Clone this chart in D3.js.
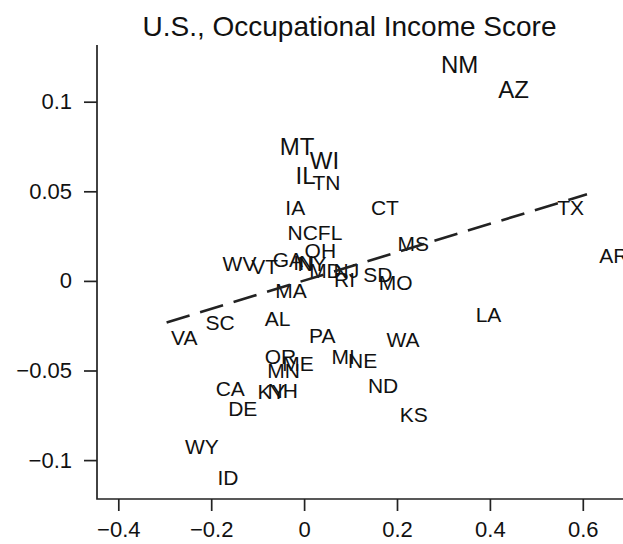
<!DOCTYPE html>
<html>
<head>
<meta charset="utf-8">
<script src="https://cdn.jsdelivr.net/npm/d3@7"></script>
<style>
  html, body { margin: 0; padding: 0; background: #fff; overflow: hidden; }
  svg { display: block; font-family: "Liberation Sans", Arial, Helvetica, sans-serif; }
</style>
</head>
<body>
<svg id="chart"></svg>
<script>
// state labels and their (x, y) values
const states = ["NM","AZ","MT","WI","IL","TN","IA","CT","NC","FL",
                "MS","TX","AR","OH","WV","VT","GA","IN","NY","MD",
                "NJ","RI","SD","MO","MA","LA","VA","SC","AL","PA",
                "WA","OR","MN","ME","MI","NE","KY","NH","ND","KS",
                "CA","DE","WY","ID"];
const xValues = [0.335, 0.451, -0.015, 0.044, 0.003, 0.048, -0.019, 0.174, -0.003, 0.056,
                 0.235, 0.574, 0.667, 0.035, -0.139, -0.085, -0.035, -0.001, 0.017, 0.046,
                 0.091, 0.087, 0.159, 0.197, -0.028, 0.397, -0.258, -0.181, -0.057, 0.039,
                 0.213, -0.051, -0.044, -0.013, 0.084, 0.126, -0.070, -0.046, 0.170, 0.236,
                 -0.159, -0.132, -0.220, -0.164];
const yValues = [0.121, 0.107, 0.075, 0.067, 0.059, 0.055, 0.041, 0.041, 0.027, 0.027,
                 0.021, 0.041, 0.014, 0.017, 0.010, 0.008, 0.012, 0.0105, 0.0098, 0.0056,
                 0.006, 0.0009, 0.0037, -0.0009, -0.0056, -0.0186, -0.0316, -0.0234, -0.0209, -0.0303,
                 -0.0326, -0.0419, -0.0498, -0.0461, -0.0419, -0.0442, -0.0617, -0.061, -0.0586, -0.0745,
                 -0.0598, -0.0712, -0.0923, -0.1098];
const bigLabels = ["NM", "AZ", "MT", "WI", "IL"];

const xTicks = [-0.4, -0.2, 0, 0.2, 0.4, 0.6];
const xTickLabels = ["\u22120.4", "\u22120.2", "0", "0.2", "0.4", "0.6"];
const yTicks = [-0.1, -0.05, 0, 0.05, 0.1];
const yTickLabels = ["\u22120.1", "\u22120.05", "0", "0.05", "0.1"];

// fitted line
const fitIntercept = 0.0002;
const fitSlope = 0.079;
const fitRange = [-0.296, 0.609];

const title = "U.S., Occupational Income Score";

// dimensions
const width = 623;
const height = 544;
const plotLeft = 97;
const plotTop = 45;
const plotBottom = 499;
const plotRight = 640;

const x = d3.scaleLinear().domain([-0.4, 0.6]).range([118.3, 582.8]);
const y = d3.scaleLinear().domain([-0.1, 0.1]).range([460.1, 101.7]);

const svg = d3.select("#chart")
  .attr("width", width)
  .attr("height", height)
  .attr("viewBox", [0, 0, width, height]);

svg.append("rect").attr("width", width).attr("height", height).attr("fill", "#fff");

// title
svg.append("text")
  .attr("x", 349.5)
  .attr("y", 36)
  .attr("text-anchor", "middle")
  .attr("font-size", 28)
  .attr("fill", "#111")
  .text(title);

// x axis
svg.append("g")
  .attr("transform", `translate(0,${plotBottom})`)
  .call(d3.axisBottom(x).tickValues(xTicks)
    .tickFormat((d, i) => xTickLabels[i])
    .tickSize(12).tickPadding(10).tickSizeOuter(0))
  .call(g => g.select(".domain").remove())
  .call(g => g.selectAll(".tick line").attr("stroke", "#222").attr("stroke-width", 1.7))
  .call(g => g.selectAll(".tick text").attr("font-size", 22).attr("fill", "#111")
    .attr("font-family", "'Liberation Sans', Arial, Helvetica, sans-serif"));

// y axis
svg.append("g")
  .attr("transform", `translate(${plotLeft},0)`)
  .call(d3.axisLeft(y).tickValues(yTicks)
    .tickFormat((d, i) => yTickLabels[i])
    .tickSize(13).tickPadding(12).tickSizeOuter(0))
  .call(g => g.select(".domain").remove())
  .call(g => g.selectAll(".tick line").attr("stroke", "#222").attr("stroke-width", 1.7))
  .call(g => g.selectAll(".tick text").attr("font-size", 22).attr("fill", "#111")
    .attr("font-family", "'Liberation Sans', Arial, Helvetica, sans-serif"));

// axis lines
svg.append("path")
  .attr("fill", "none")
  .attr("stroke", "#222")
  .attr("stroke-width", 1.7)
  .attr("d", `M${plotLeft},${plotTop}V${plotBottom}H${plotRight}`);

// state labels
const labelData = states.map((s, i) => ({ state: s, x: xValues[i], y: yValues[i] }));
svg.append("g")
  .selectAll("text")
  .data(labelData)
  .join("text")
    .attr("x", d => x(d.x))
    .attr("y", d => y(d.y))
    .attr("dy", "0.36em")
    .attr("text-anchor", "middle")
    .attr("font-size", d => bigLabels.includes(d.state) ? 24 : 21)
    .attr("fill", "#111")
    .text(d => d.state);

// dashed fit line
const line = d3.line()
  .x(d => x(d))
  .y(d => y(fitIntercept + fitSlope * d));

svg.append("path")
  .attr("fill", "none")
  .attr("stroke", "#222")
  .attr("stroke-width", 2.6)
  .attr("stroke-dasharray", "24,11")
  .attr("d", line(fitRange));
</script>
</body>
</html>
